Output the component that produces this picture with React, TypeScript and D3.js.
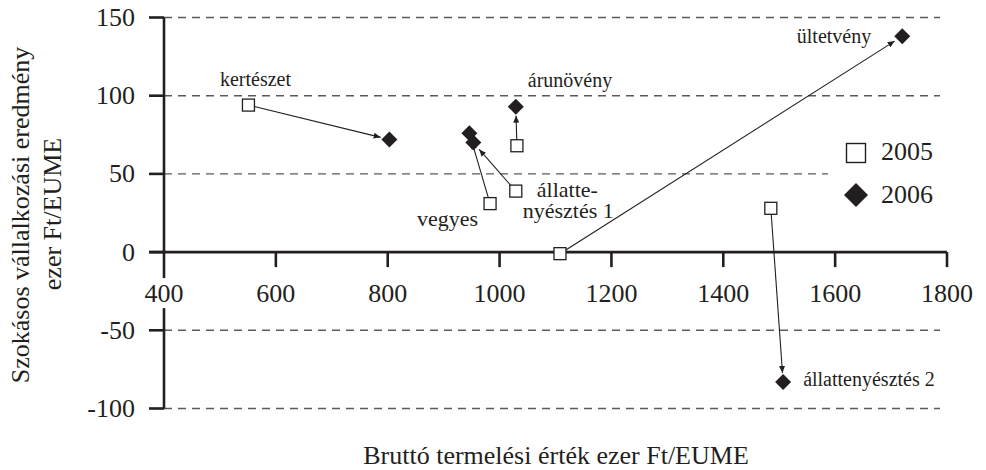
import React from 'react'
import { scaleLinear } from 'd3'

// sectors, 2005 -> 2006
const categories = ['kertészet', 'vegyes', 'árunövény', 'állattenyésztés 1', 'ültetvény', 'állattenyésztés 2']
const x2005 = [551, 983, 1031, 1029, 1108, 1485]
const y2005 = [94, 31, 68, 39, -1, 28]
const x2006 = [803, 946, 1029, 953, 1720, 1507]
const y2006 = [72, 76, 93, 70, 138, -83]

const xTicks = [400, 600, 800, 1000, 1200, 1400, 1600, 1800]
const yTicks = [150, 100, 50, 0, -50, -100]
const years = ['2005', '2006']

const App = () => {
  const width = 986
  const height = 470
  const ink = '#231f20'
  const serif = { fontFamily: 'Liberation Serif' }

  const xScale = scaleLinear().domain([400, 1800]).range([164, 947])
  const yScale = scaleLinear().domain([-100, 150]).range([408.5, 17.5])
  const x0 = xScale(400)
  const yZero = yScale(0)

  // label placement relative to a point
  const labels = [
    { i: 0, yr: 0, dx: 7, dy: -19, anchor: 'middle', size: 20, text: 'kertészet' },
    { i: 2, yr: 1, dx: 12, dy: -20, anchor: 'start', size: 20, text: 'árunövény' },
    { i: 1, yr: 0, dx: -12, dy: 22, anchor: 'end', size: 22, text: 'vegyes' },
    { i: 4, yr: 1, dx: -31, dy: 7, anchor: 'end', size: 20, text: 'ültetvény' },
    { i: 5, yr: 1, dx: 20, dy: 4, anchor: 'start', size: 20, text: 'állattenyésztés 2' }
  ]

  const diamond = r => `M0,${-r}L${r},0L0,${r}L${-r},0Z`

  const arrows = categories.map((c, i) => {
    const sx = xScale(x2005[i])
    const sy = yScale(y2005[i])
    const tx = xScale(x2006[i])
    const ty = yScale(y2006[i])
    const len = Math.hypot(tx - sx, ty - sy)
    const ux = (tx - sx) / len
    const uy = (ty - sy) / len
    return { c, x1: sx + ux * 6, y1: sy + uy * 6, x2: tx - ux * 9, y2: ty - uy * 9 }
  })

  const p1 = { x: xScale(x2005[3]), y: yScale(y2005[3]) }

  return (
    <svg width={width} height={height} style={{ position: 'absolute', left: 0, top: 0, background: '#fff' }}>
      <defs>
        <marker id='arr' markerUnits='userSpaceOnUse' markerWidth={7} markerHeight={6} refX={7} refY={3} orient='auto'>
          <path d='M0,0L7,3L0,6Z' fill={ink} />
        </marker>
      </defs>

      {/* grid */}
      {yTicks.filter(t => t !== 0).map(t => (
        <line key={t} x1={x0} x2={t === 50 ? 828 : 940} y1={yScale(t)} y2={yScale(t)}
          stroke='#5a5a5a' strokeWidth={1.4} strokeDasharray='8,6' />
      ))}

      {/* axes */}
      <line x1={x0} x2={x0} y1={yScale(150)} y2={yScale(-100)} stroke={ink} strokeWidth={2.6} />
      <line x1={149} x2={xScale(1800)} y1={yZero} y2={yZero} stroke={ink} strokeWidth={2.6} />
      {yTicks.map(t => (
        <g key={t} transform={`translate(0,${yScale(t)})`}>
          <line x1={149} x2={x0} stroke={ink} strokeWidth={2.6} />
          <text x={135} y={8.5} textAnchor='end' style={serif} fontSize={26} fill={ink}>{t}</text>
        </g>
      ))}
      {xTicks.map(t => (
        <g key={t} transform={`translate(${xScale(t)},${yZero})`}>
          {t !== 400 && <line y1={0} y2={15} stroke={ink} strokeWidth={2.6} />}
          <rect x={-24} y={26} width={48} height={30} fill='#fff' />
          <text y={50} textAnchor='middle' style={serif} fontSize={26} fill={ink}>{t}</text>
        </g>
      ))}

      {/* axis titles */}
      <text transform='translate(29,215) rotate(-90)' textAnchor='middle' style={serif} fontSize={26} fill={ink}>
        Szokásos vállalkozási eredmény
      </text>
      <text transform='translate(61,214) rotate(-90)' textAnchor='middle' style={serif} fontSize={26} fill={ink}>
        ezer Ft/EUME
      </text>
      <text x={556} y={464} textAnchor='middle' style={serif} fontSize={26} fill={ink}>
        Bruttó termelési érték ezer Ft/EUME
      </text>

      {/* arrows */}
      {arrows.map(a => (
        <line key={a.c} x1={a.x1} y1={a.y1} x2={a.x2} y2={a.y2} stroke={ink} strokeWidth={1.1} markerEnd='url(#arr)' />
      ))}

      {/* markers */}
      {categories.map((c, i) => (
        <g key={c}>
          <rect x={xScale(x2005[i]) - 6} y={yScale(y2005[i]) - 6} width={12} height={12}
            fill='#fff' stroke={ink} strokeWidth={1.3} />
          <path d={diamond(8)} transform={`translate(${xScale(x2006[i])},${yScale(y2006[i])})`} fill={ink} />
        </g>
      ))}

      {/* labels */}
      {labels.map(l => {
        const px = xScale(l.yr === 0 ? x2005[l.i] : x2006[l.i])
        const py = yScale(l.yr === 0 ? y2005[l.i] : y2006[l.i])
        return (
          <text key={l.text} x={px + l.dx} y={py + l.dy} textAnchor={l.anchor}
            style={serif} fontSize={l.size} fill={ink}>{l.text}</text>
        )
      })}
      <text x={p1.x + 21} y={p1.y + 6} style={serif} fontSize={22} fill={ink}>állatte-</text>
      <text x={p1.x + 7} y={p1.y + 27} style={serif} fontSize={22} fill={ink}>nyésztés 1</text>

      {/* legend */}
      <g transform='translate(856,153)'>
        <rect x={-9.5} y={-9.5} width={19} height={19} fill='#fff' stroke={ink} strokeWidth={1.4} />
        <text x={25} y={7} style={serif} fontSize={26} fill={ink}>{years[0]}</text>
      </g>
      <g transform='translate(856,195)'>
        <path d={diamond(12)} fill={ink} />
        <text x={25} y={8} style={serif} fontSize={26} fill={ink}>{years[1]}</text>
      </g>
    </svg>
  )
}

export default App
